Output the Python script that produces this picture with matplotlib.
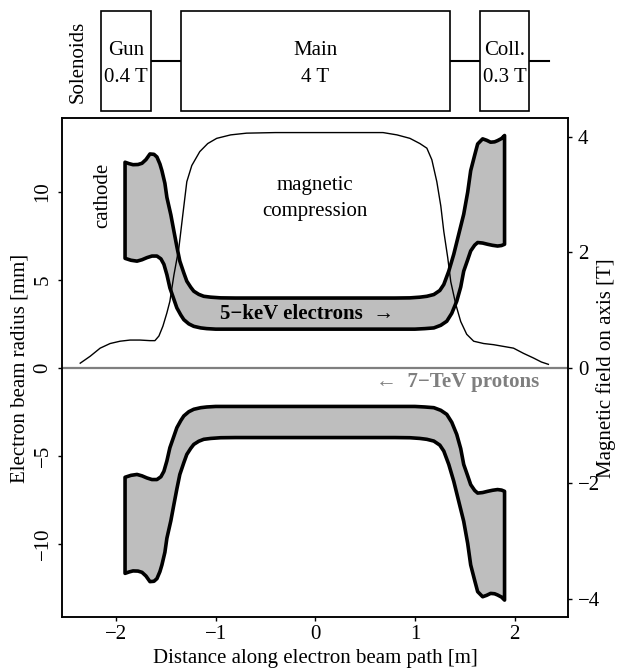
import matplotlib
matplotlib.use("Agg")
import matplotlib.pyplot as plt
from matplotlib.patches import Polygon, Rectangle
import numpy as np

plt.rcParams["font.family"] = ["Liberation Serif", "DejaVu Serif"]
plt.rcParams["font.size"] = 15

# solenoids (top strip)
SOL_NAMES = ["Gun", "Main", "Coll."]
SOL_FIELDS = ["0.4 T", "4 T", "0.3 T"]
SOL_START = [-2.15, -1.35, 1.65]
SOL_END = [-1.65, 1.35, 2.15]
CONNECT_END = 2.35

# magnetic field on axis [T] vs distance [m]
FIELD_X = [-2.36, -2.26, -2.16, -2.06, -1.96, -1.86, -1.76, -1.66, -1.61, -1.57,
           -1.53, -1.49, -1.46, -1.42, -1.37, -1.33, -1.29, -1.24, -1.16, -1.08,
           -0.99, -0.85, -0.69, -0.40, 0.00, 0.40, 0.68, 0.82, 0.95, 1.05,
           1.12, 1.17, 1.22, 1.26, 1.29, 1.33, 1.36, 1.41, 1.46, 1.52,
           1.59, 1.69, 1.79, 1.89, 1.99, 2.09, 2.19, 2.27, 2.34]
FIELD_B = [0.08, 0.20, 0.34, 0.42, 0.46, 0.48, 0.48, 0.47, 0.47, 0.55,
           0.72, 0.95, 1.15, 1.60, 2.07, 2.65, 3.22, 3.50, 3.74, 3.88,
           3.97, 4.03, 4.06, 4.07, 4.07, 4.07, 4.07, 4.03, 3.97, 3.88,
           3.80, 3.60, 3.22, 2.80, 2.36, 1.90, 1.49, 1.10, 0.80, 0.58,
           0.46, 0.42, 0.40, 0.37, 0.34, 0.25, 0.17, 0.10, 0.06]

# electron beam envelope, upper half [mm]
OUTER_X = [-1.91, -1.87, -1.83, -1.78, -1.74, -1.70, -1.66, -1.62, -1.59, -1.56,
           -1.54, -1.51, -1.49, -1.45, -1.42, -1.39, -1.36, -1.32, -1.29, -1.25,
           -1.22, -1.17, -1.12, -1.05, -0.95, -0.80, 0.00, 0.80, 0.95, 1.05,
           1.12, 1.19, 1.25, 1.29, 1.34, 1.39, 1.44, 1.49, 1.53, 1.56,
           1.60, 1.63, 1.68, 1.72, 1.76, 1.80, 1.83, 1.87, 1.90]
OUTER_R = [11.70, 11.62, 11.56, 11.57, 11.64, 11.85, 12.17, 12.15, 12.00, 11.60,
           11.22, 10.50, 9.70, 8.70, 7.79, 6.90, 6.07, 5.40, 4.93, 4.58,
           4.36, 4.18, 4.07, 4.02, 3.98, 3.97, 3.97, 3.97, 3.98, 4.02,
           4.07, 4.17, 4.40, 4.74, 5.50, 6.46, 7.60, 8.74, 10.00, 11.22,
           12.10, 12.74, 13.03, 12.95, 12.84, 12.86, 12.93, 13.05, 13.22]
INNER_X = [-1.91, -1.85, -1.79, -1.74, -1.69, -1.64, -1.59, -1.55, -1.52, -1.49,
           -1.46, -1.42, -1.39, -1.35, -1.32, -1.27, -1.22, -1.15, -1.09, -1.00,
           0.00, 1.00, 1.10, 1.19, 1.26, 1.32, 1.37, 1.42, 1.46, 1.49,
           1.53, 1.56, 1.60, 1.63, 1.68, 1.73, 1.78, 1.83, 1.87, 1.90]
INNER_R = [6.23, 6.12, 6.07, 6.15, 6.27, 6.36, 6.36, 6.20, 5.89, 5.30,
           4.55, 3.90, 3.41, 3.00, 2.74, 2.50, 2.36, 2.27, 2.23, 2.20,
           2.20, 2.20, 2.23, 2.27, 2.42, 2.65, 3.10, 3.79, 4.60, 5.50,
           6.15, 6.65, 6.98, 7.13, 7.10, 7.03, 6.97, 6.93, 6.96, 7.03]

W, H = 619, 669


def px_rect(left, top, right, bottom):
    return [left / W, 1 - bottom / H, (right - left) / W, (bottom - top) / H]


fig = plt.figure(figsize=(W / 100, H / 100), dpi=100)

# ---- main panel
ax = fig.add_axes(px_rect(62.3, 118.3, 568.3, 617.3))
ax.set_xlim(-2.54, 2.54)
ax.set_ylim(-14.2, 14.2)

for sign in (1, -1):
    xs = np.concatenate([OUTER_X, INNER_X[::-1]])
    ys = sign * np.concatenate([OUTER_R, INNER_R[::-1]])
    ax.add_patch(Polygon(np.column_stack([xs, ys]), closed=True, facecolor="#bebebe",
                         edgecolor="black", linewidth=2.6, joinstyle="round", zorder=2))

ax.axhline(0, color="#7f7f7f", linewidth=1.6, zorder=1)

ax.text(-2.13, 9.8, "cathode", rotation=90, ha="center", va="center")
ax.text(0.0, 10.35, "magnetic", ha="center", va="center")
ax.text(0.0, 8.9, "compression", ha="center", va="center")
ax.text(-0.085, 3.05, "5\u2212keV electrons  \u2192", ha="center", va="center",
        fontweight="bold", zorder=3)
ax.text(1.43, -0.8, "\u2190  7\u2212TeV protons", ha="center", va="center",
        fontweight="bold", color="#7f7f7f")

ax.set_xticks([-2, -1, 0, 1, 2])
ax.set_yticks([-10, -5, 0, 5, 10])
ax.tick_params(direction="out", length=3, width=1, pad=2.5)
ax.tick_params(axis="y", pad=4)
for lbl in ax.get_yticklabels():
    lbl.set_rotation(90)
    lbl.set_va("center")
for sp in ax.spines.values():
    sp.set_linewidth(1.1)

# ---- field on right axis
axb = ax.twinx()
axb.set_ylim(-4.317, 4.317)
axb.plot(FIELD_X, FIELD_B, color="black", linewidth=1.0, zorder=4)
axb.set_yticks([-4, -2, 0, 2, 4])
axb.tick_params(direction="out", length=3, width=1, pad=4)
for sp in axb.spines.values():
    sp.set_linewidth(1.1)

fig.text(20 / W, 1 - 368 / H, "Electron beam radius [mm]", rotation=90,
         ha="center", va="center")
fig.text(606 / W, 1 - 368 / H, "Magnetic field on axis [T]", rotation=90,
         ha="center", va="center")
fig.text(315 / W, 1 - 658 / H, "Distance along electron beam path [m]",
         ha="center", va="center")

# ---- solenoid strip
top = fig.add_axes(px_rect(62.3, 10.7, 568.3, 110.7))
top.set_xlim(-2.54, 2.54)
top.set_ylim(0, 1)
top.axis("off")
top.plot([SOL_END[0], CONNECT_END], [0.5, 0.5], color="black", linewidth=1.5, zorder=1)
for name, field, x0, x1 in zip(SOL_NAMES, SOL_FIELDS, SOL_START, SOL_END):
    top.add_patch(Rectangle((x0, 0), x1 - x0, 1, facecolor="white", edgecolor="black",
                            linewidth=1.2, zorder=2, clip_on=False))
    xc = (x0 + x1) / 2
    top.text(xc, 0.60, name, ha="center", va="center", zorder=3)
    top.text(xc, 0.335, field, ha="center", va="center", zorder=3)
top.text(-2.38, 0.49, "Solenoids", rotation=90, ha="center", va="center")

fig.savefig("out.png", dpi=100)
